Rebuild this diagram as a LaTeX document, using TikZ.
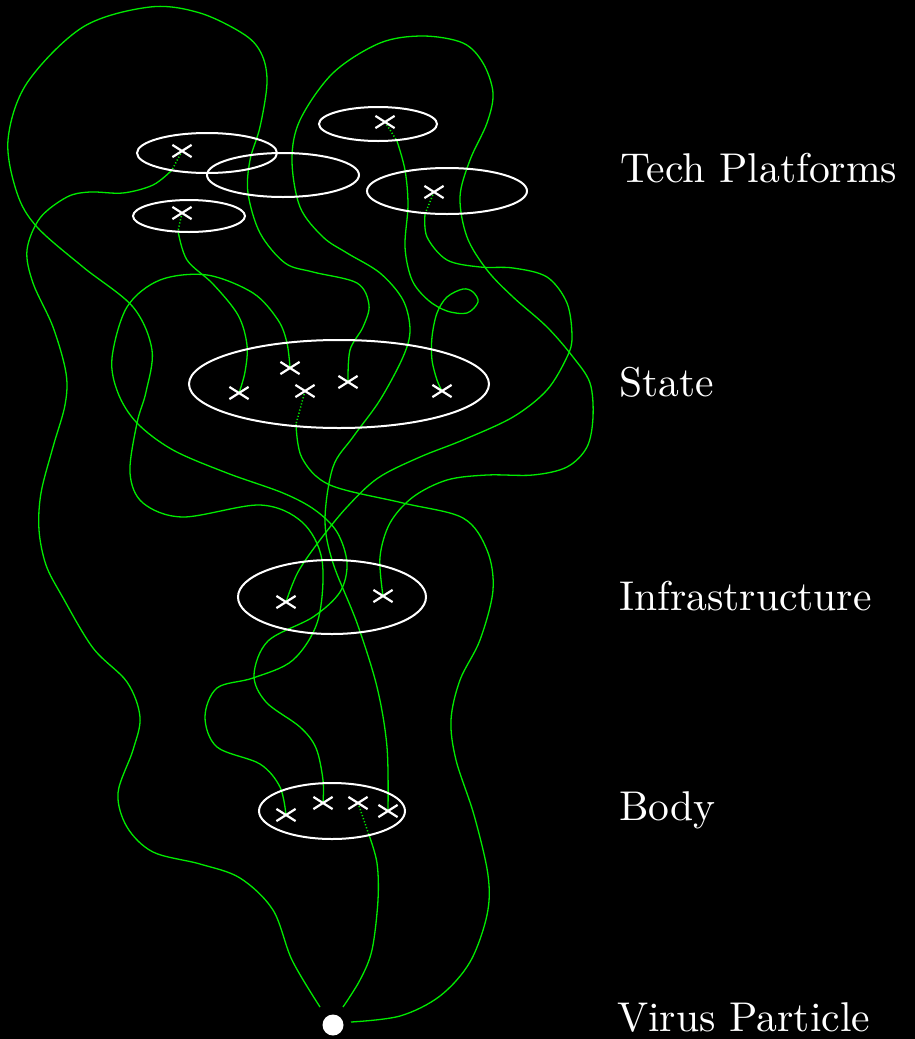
\documentclass[tikz,border=0pt]{standalone}
\usetikzlibrary{shapes.misc,shapes.geometric}
\definecolor{curvegreen}{RGB}{0,235,0}
\newcommand{\biglabel}[1]{\scalebox{4.16}{\fontsize{10}{12}\selectfont #1}}
\begin{document}
\begin{tikzpicture}[x=1pt,y=-1pt,
  curve/.style={curvegreen, line width=1.3pt, smooth, tension=0.55},
  dotseg/.style={curvegreen, line width=1.5pt, dash pattern=on 1.2pt off 2pt},
  ring/.style={draw=white, line width=2pt, ellipse, inner sep=0pt},
  xmark/.style={cross out, draw=white, line width=2.2pt, minimum width=17pt, minimum height=10pt, inner sep=0pt},
  lab/.style={text=white, anchor=base west, inner sep=0pt}]
\fill[black] (0,0) rectangle (915,1039);
\useasboundingbox (0,0) rectangle (915,1039);
% mark positions
\coordinate (T1) at (182,151);
\coordinate (T2) at (182,213);
\coordinate (T3) at (385,122);
\coordinate (T4) at (434,192);
\coordinate (S1) at (239,393);
\coordinate (S2) at (290,368);
\coordinate (S3) at (305,391);
\coordinate (S4) at (348,382);
\coordinate (S5) at (442,391);
\coordinate (I1) at (286,602);
\coordinate (I2) at (383,596);
\coordinate (B1) at (286,815);
\coordinate (B2) at (323,803);
\coordinate (B3) at (358,803);
\coordinate (B4) at (388,811);
\coordinate (Va) at (320,1007);
\coordinate (Vb) at (343,1007);
\coordinate (Vc) at (351,1022);
% ends of dotted pieces
\coordinate (dT1) at (172,170);
\coordinate (dT2) at (178,231);
\coordinate (dT3) at (397,141);
\coordinate (dT4) at (425,214);
\coordinate (dS3) at (296,424);
\coordinate (dB3) at (369,835);
% curves
\draw[curve] plot coordinates {(dT1) (153,185) (123,193) (90,192) (67,197) (40,218) (27,250) (33,283) (53,327) (66,373) (65,405) (53,447) (41,493) (39,530) (46,565) (62,596) (93,648) (127,682) (140,717) (133,750) (118,793) (127,827) (153,852) (200,864) (240,878) (273,910) (292,960) (Va)};
\draw[curve] plot coordinates {(Vb) (360,980) (372,950) (378,900) (377,863) (dB3)};
\draw[curve] plot coordinates {(Vc) (400,1016) (440,996) (470,962) (487,915) (488,875) (474,815) (456,760) (451,720) (460,680) (480,640) (493,590) (487,550) (463,518) (403,503) (330,485) (302,458) (dS3)};
\draw[curve] plot coordinates {(dT2) (187,260) (213,284) (238,315) (247,345) (245,372) (S1)};
\draw[curve] plot coordinates {(S2) (287,343) (278,320) (253,293) (207,275) (160,280) (127,307) (112,358) (118,393) (137,423) (173,450) (227,473) (283,493) (315,510) (337,532) (347,563) (340,592) (313,617) (268,641) (254,675) (266,702) (300,727) (316,748) (323,780) (B2)};
\draw[curve] plot coordinates {(S4) (350,350) (363,327) (369,305) (357,283) (313,272) (285,263) (260,233) (248,193) (250,160) (260,127) (267,83) (262,55) (245,35) (200,13) (150,7) (83,27) (27,83) (8,140) (17,193) (37,227) (83,267) (133,307) (152,350) (146,392) (137,423) (130,473) (143,503) (183,517) (260,505) (302,522) (322,560) (318,620) (293,660) (253,678) (217,688) (205,717) (217,747) (260,764) (280,787) (B1)};
\draw[curve] plot coordinates {(dT3) (405,170) (408,205) (405,247) (412,280) (428,300) (447,311) (467,313) (478,302) (473,292) (463,289) (447,297) (437,313) (432,337) (432,360) (437,380) (S5)};
\draw[curve] plot coordinates {(dT4) (427,237) (447,260) (480,267) (513,268) (547,277) (567,303) (572,337) (567,357) (547,390) (513,417) (463,440) (420,457) (378,478) (347,507) (320,540) (298,572) (I1)};
\draw[curve] plot coordinates {(B4) (387,747) (377,687) (357,623) (333,563) (325,520) (333,467) (353,437) (380,400) (403,357) (410,330) (403,300) (380,273) (347,253) (323,237) (300,207) (292,160) (300,120) (333,73) (380,43) (423,36) (463,43) (483,63) (493,93) (487,123) (470,160) (460,197) (467,237) (487,270) (513,297) (547,327) (573,357) (590,383) (593,417) (587,447) (567,467) (533,475) (487,475) (447,480) (413,497) (390,523) (380,557) (I2)};
% dotted pieces
\draw[dotseg] (T1) -- (dT1);
\draw[dotseg] (T2) -- (dT2);
\draw[dotseg] (T3) -- (dT3);
\draw[dotseg] (T4) -- (dT4);
\draw[dotseg] (S3) -- (dS3);
\draw[dotseg] (B3) -- (dB3);
% level ellipses
\node[ring, minimum width=140pt, minimum height=40pt] (E1) at (207,153) {};
\node[ring, minimum width=152pt, minimum height=44pt] (E2) at (283,175) {};
\node[ring, minimum width=118pt, minimum height=34pt] (E3) at (378,124) {};
\node[ring, minimum width=160pt, minimum height=46pt] (E4) at (447,191) {};
\node[ring, minimum width=112pt, minimum height=32pt] (E5) at (189,216) {};
\node[ring, minimum width=300pt, minimum height=88pt] (Estate) at (339,384) {};
\node[ring, minimum width=188pt, minimum height=74pt] (Einfra) at (332,597) {};
\node[ring, minimum width=146pt, minimum height=56pt] (Ebody) at (332,811) {};
% crosses
\foreach \m in {T1,T2,T3,T4,S1,S2,S3,S4,S5,I1,I2,B1,B2,B3,B4}
  \node[xmark] (x\m) at (\m) {};
% virus particle
\node[circle, fill=white, minimum size=21pt, inner sep=0pt] (V) at (333,1025) {};
% labels
\node[lab] (Ltech) at (620,182) {\biglabel{Tech Platforms}};
\node[lab] (Lstate) at (619,396) {\biglabel{State}};
\node[lab] (Linfra) at (619,610) {\biglabel{Infrastructure}};
\node[lab] (Lbody) at (619,820) {\biglabel{Body}};
\node[lab] (Lvirus) at (617,1031) {\biglabel{Virus Particle}};
\end{tikzpicture}
\end{document}
